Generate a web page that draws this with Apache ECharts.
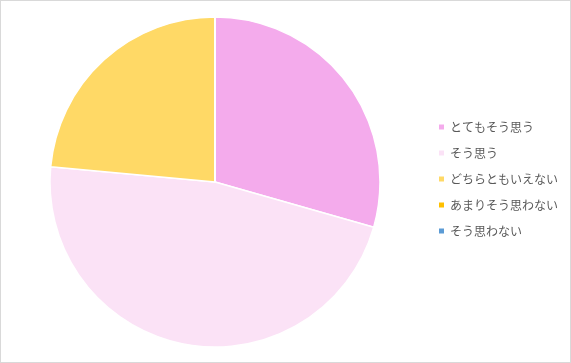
<!DOCTYPE html>
<html><head><meta charset="utf-8">
<script src="https://cdn.jsdelivr.net/npm/echarts@6/dist/echarts.min.js"></script>
<style>html,body{margin:0;padding:0;background:#fff}#c{width:571px;height:363px;box-sizing:border-box;border:1px solid #d9d9d9}</style>
</head><body><div id="c"></div>
<script>
const categories = ['とてもそう思う','そう思う','どちらともいえない','あまりそう思わない','そう思わない'];
const values = [5, 8, 4, 0, 0];
const colors = ['#F4ABEC','#FBE2F6','#FFD966','#FFC000','#5B9BD5'];
const chart = echarts.init(document.getElementById('c'), null, {renderer:'canvas'});
chart.setOption({
  animation:false,
  color: colors,
  legend: {
    orient:'vertical', left: 436, top: 120, padding:0,
    icon:'rect', itemWidth:7, itemHeight:7, itemGap:14,
    textStyle:{fontFamily:'Noto Sans CJK JP', fontSize:12, color:'#595959'},
    data: categories
  },
  series:[{
    type:'pie', center:[214,181], radius:165, startAngle:90, clockwise:true,
    label:{show:false}, labelLine:{show:false},
    itemStyle:{borderColor:'#fff', borderWidth:1.5},
    emphasis:{disabled:true},
    data: categories.map((n,i)=>({name:n, value:values[i]}))
  }]
});
</script></body></html>
